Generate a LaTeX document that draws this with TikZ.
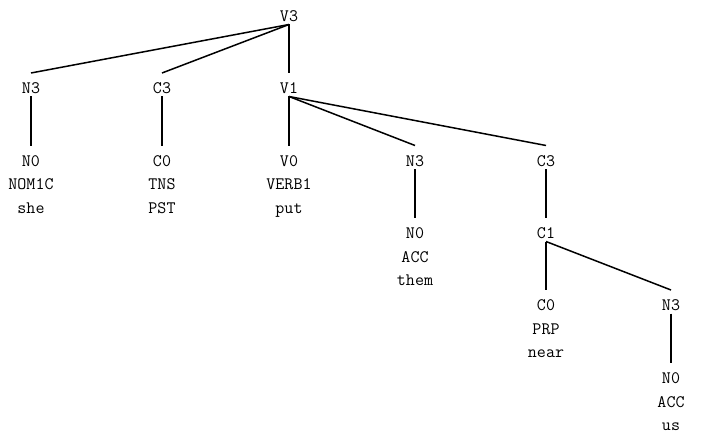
\documentclass[tikz,border=0pt]{standalone}
\newcommand\stk[1]{\vtop{\halign{\hfil##\hfil\cr#1\crcr}}}
\begin{document}
\begin{tikzpicture}[x=1pt,y=-1pt,
  lbl/.style={font=\ttfamily\fontsize{17.5}{23.5}\selectfont, inner sep=0pt, anchor=base},
  edge/.style={line width=1.5pt}]
\useasboundingbox (0,0) rectangle (703,433);
\node[lbl] (v3) at (289,21.5) {V3};
\node[lbl] (n3a) at (31,93.5) {N3};
\node[lbl] (c3a) at (162,93.5) {C3};
\node[lbl] (v1) at (289,93.5) {V1};
\node[lbl] (n0a) at (31,166) {\stk{N0\cr NOM1C\cr she}};
\node[lbl] (c0a) at (162,166) {\stk{C0\cr TNS\cr PST}};
\node[lbl] (v0) at (289,166) {\stk{V0\cr VERB1\cr put}};
\node[lbl] (n3b) at (415,166) {N3};
\node[lbl] (c3b) at (546,166) {C3};
\node[lbl] (n0b) at (415,238.5) {\stk{N0\cr ACC\cr them}};
\node[lbl] (c1) at (546,238.5) {C1};
\node[lbl] (c0b) at (546,310.5) {\stk{C0\cr PRP\cr near}};
\node[lbl] (n3c) at (671,310.5) {N3};
\node[lbl] (n0c) at (671,383.5) {\stk{N0\cr ACC\cr us}};
\foreach \p/\c in {v3/n3a, v3/c3a, v3/v1, n3a/n0a, c3a/c0a, v1/v0, v1/n3b, v1/c3b, n3b/n0b, c3b/c1, c1/c0b, c1/n3c, n3c/n0c}
  \draw[edge] ([yshift=-3pt]\p.base) -- ([yshift=20.5pt]\c.base);
\end{tikzpicture}
\end{document}
